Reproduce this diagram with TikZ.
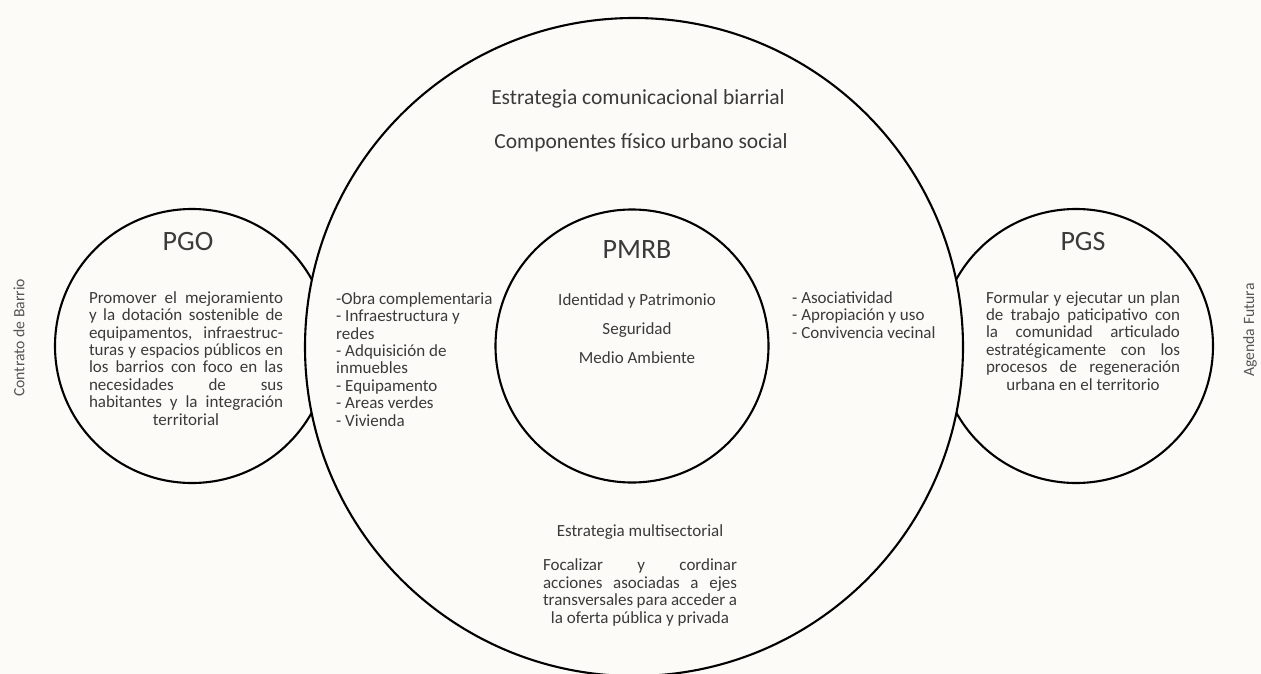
\documentclass[tikz,border=0pt]{standalone}
\usepackage{fontspec}
\setmainfont{Carlito}
\definecolor{bgc}{RGB}{252,251,248}
\definecolor{txt}{RGB}{58,58,58}
\definecolor{side}{RGB}{85,85,85}
\newcommand{\jl}[1]{\makebox[194pt][s]{#1}}
\tikzset{
  ring/.style={circle, draw=black, line width=2.1pt, inner sep=0pt, outer sep=0pt},
  title/.style={font=\fontsize{28}{30}\selectfont, text=txt, inner sep=0pt, anchor=base},
  head/.style={font=\fontsize{21.5}{24}\selectfont, text=txt, inner sep=0pt, anchor=base},
  item/.style={font=\fontsize{17}{19}\selectfont, text=txt, inner sep=0pt, anchor=base},
  body/.style={font=\fontsize{17}{17.4}\selectfont, text=txt, inner sep=0pt, align=center, anchor=base},
  lst/.style={font=\fontsize{17}{17.4}\selectfont, text=txt, inner sep=0pt, align=left, anchor=base west},
  sidelab/.style={font=\fontsize{15.7}{18}\selectfont, text=side, inner sep=0pt, rotate=90}
}
\begin{document}
\begin{tikzpicture}[x=1pt,y=-1pt]
\fill[bgc] (0,0) rectangle (1261,674);
\useasboundingbox (0,0) rectangle (1261,674);
% side circles
\node[ring, minimum size=274pt] (pgo) at (192,346) {};
\node[ring, minimum size=274pt] (pgs) at (1076,346) {};
% big circle covers the inner parts of side circles
\node[ring, fill=bgc, minimum size=658pt] (big) at (634,347) {};
% inner circle
\node[ring, minimum size=273pt] (pmrb) at (632,346) {};

% top texts
\node[head] (t1) at (638,105) {Estrategia comunicacional biarrial};
\node[head] (t2) at (641,149) {Componentes físico urbano social};

% titles
\node[title] (pgot) at (188,250) {PGO};
\node[title] (pgst) at (1083,250) {PGS};
\node[title] (pmrbt) at (637,258) {PMRB};

% PMRB items
\node[item] (i1) at (637,305) {Identidad y Patrimonio};
\node[item] (i2) at (637,334) {Seguridad};
\node[item] (i3) at (637,363) {Medio Ambiente};

% PGO body (anchor = baseline of last line)
\node[body] (pgob) at (186,425) {\jl{Promover el mejoramiento}\\
\jl{y la dotación sostenible de}\\
\jl{equipamentos, infraestruc-}\\
\jl{turas y espacios públicos en}\\
\jl{los barrios con foco en las}\\
\jl{necesidades de sus}\\
\jl{habitantes y la integración}\\
territorial};

% PGS body
\node[body] (pgsb) at (1083,390) {\jl{Formular y ejecutar un plan}\\
\jl{de trabajo paticipativo con}\\
\jl{la comunidad articulado}\\
\jl{estratégicamente con los}\\
\jl{procesos de regeneración}\\
urbana en el territorio};

% left list
\node[lst] (ll) at (336,426) {-Obra complementaria\\
- Infraestructura y\\
redes\\
- Adquisición de\\
inmuebles\\
- Equipamento\\
- Areas verdes\\
- Vivienda};

% right list
\node[lst] (rl) at (792,338) {- Asociatividad\\
- Apropiación y uso\\
- Convivencia vecinal};

% bottom
\node[item] (b1) at (640,536) {Estrategia multisectorial};
\node[body] (b2) at (640,623) {\jl{Focalizar y cordinar}\\
\jl{acciones asociadas a ejes}\\
\jl{transversales para acceder a}\\
la oferta pública y privada};

% side labels
\node[sidelab] (cb) at (19,338) {Contrato de Barrio};
\node[sidelab] (af) at (1250,330) {Agenda Futura};
\end{tikzpicture}
\end{document}
